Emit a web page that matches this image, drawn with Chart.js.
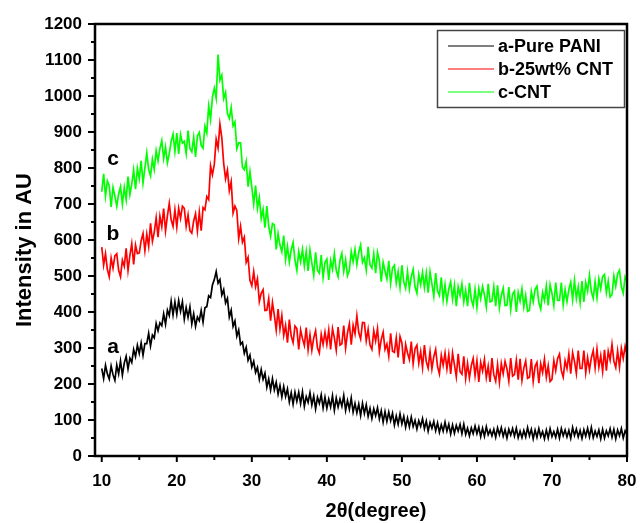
<!DOCTYPE html>
<html>
<head>
<meta charset="utf-8">
<script src="https://cdn.jsdelivr.net/npm/chart.js@4.4.1/dist/chart.umd.min.js"></script>
<style>
  html, body { margin: 0; padding: 0; background: #fff; }
</style>
</head>
<body>
<canvas id="xrdChart" width="640" height="523"></canvas>
<script>
// scan: 2-theta from 10 to 80 degrees, one reading every 0.25 degree
const scanStart = 10;
const scanStep = 0.25;

const seriesLabels = ['a-Pure PANI', 'b-25wt% CNT', 'c-CNT'];
const seriesColors = ['#000000', '#ff0000', '#00ff00'];
const curveTags = ['a', 'b', 'c'];

// intensity readings (AU), four per degree
const pureCounts = [
  243, 215, 252, 228,  214, 250, 226, 210,  253, 228, 264, 225,  258, 277, 242, 272,
  260, 296, 276, 308,  285, 314, 280, 312,  312, 341, 306, 336,  328, 368, 348, 370,
  362, 395, 366, 405,  390, 430, 392, 428,  394, 432, 402, 428,  380, 412, 385, 414,
  367, 395, 360, 386,  376, 404, 372, 412,  415, 445, 440, 475,  490, 512, 480, 490,
  447, 462, 425, 438,  386, 405, 360, 375,  333, 350, 310, 316,  285, 302, 266, 280,
  247, 263, 232, 246,  213, 240, 213, 230,  191, 214, 183, 215,  184, 205, 172, 196,
  164, 193, 165, 186,  150, 176, 144, 177,  152, 177, 146, 178,  138, 165, 149, 176,
  142, 167, 131, 163,  146, 170, 133, 163,  133, 158, 136, 167,  127, 161, 136, 158,
  138, 168, 127, 154,  130, 161, 122, 146,  120, 144, 112, 146,  118, 142, 110, 132,
  104, 131, 112, 134,  103, 126, 94, 123,   96, 122, 98, 119,    86, 111, 88, 117,
  89, 110, 80, 105,    81, 108, 82, 99,     75, 98, 82, 104,     76, 97, 69, 93,
  77, 96, 70, 92,      66, 87, 69, 94,      69, 88, 61, 86,      63, 85, 69, 88,
  62, 88, 60, 77,      56, 78, 62, 83,      62, 80, 54, 77,      55, 81, 59, 72,
  56, 74, 52, 78,      59, 79, 55, 73,      50, 74, 58, 76,      55, 77, 51, 69,
  51, 71, 53, 79,      56, 74, 48, 72,      52, 76, 54, 68,      48, 72, 50, 76,
  54, 68, 52, 74,      50, 76, 56, 72,      53, 71, 49, 79,      57, 75, 53, 71,
  49, 73, 55, 77,      53, 79, 51, 69,      54, 72, 48, 74,      50, 70, 56, 76,
  52, 74, 48, 72,      56, 76, 50, 70,      60
];

const compositeCounts = [
  580, 530, 562, 518,  498, 550, 522, 556,  562, 516, 498, 544,  527, 577, 515, 557,
  590, 532, 586, 562,  564, 598, 618, 570,  616, 582, 646, 596,  622, 662, 608, 666,
  637, 687, 625, 667,  702, 656, 638, 684,  636, 688, 660, 694,  688, 638, 670, 626,
  619, 653, 673, 625,  677, 626, 690, 684,  721, 712, 806, 781,  810, 880, 856, 922,
  884, 813, 770, 794,  737, 762, 675, 694,  682, 604, 638, 594,  608, 538, 552, 488,
  473, 512, 470, 492,  429, 452, 462, 404,  405, 437, 376, 426,  391, 350, 408, 353,
  390, 335, 363, 315,  379, 333, 315, 361,  354, 296, 350, 326,  307, 357, 295, 337,
  294, 328, 348, 300,  286, 338, 310, 344,  310, 350, 296, 354,  328, 294, 358, 308,
  312, 362, 300, 342,  367, 309, 363, 339,  389, 343, 325, 371,  370, 320, 352, 308,
  296, 348, 320, 354,  290, 324, 344, 296,  311, 277, 341, 291,  288, 328, 274, 332,
  314, 256, 310, 286,  268, 318, 256, 298,  308, 258, 290, 246,  308, 262, 244, 290,
  242, 276, 296, 248,  228, 280, 252, 286,  242, 282, 228, 286,  254, 220, 284, 234,
  227, 277, 215, 257,  217, 251, 271, 223,  264, 206, 260, 236,  268, 218, 250, 206,
  272, 226, 208, 254,  205, 257, 229, 263,  242, 208, 272, 222,  226, 266, 212, 270,
  210, 244, 264, 216,  219, 269, 207, 249,  260, 202, 256, 232,  269, 219, 251, 207,
  213, 265, 237, 271,  283, 237, 219, 265,  243, 283, 229, 287,  263, 229, 293, 243,
  243, 293, 231, 273,  239, 273, 293, 245,  297, 247, 279, 235,  295, 237, 291, 267,
  310, 264, 246, 292,  247, 299, 271, 305,  282
];

const cntCounts = [
  734, 784, 722, 764,  750, 692, 746, 722,  694, 728, 748, 700,  746, 712, 776, 726,
  755, 795, 741, 799,  770, 820, 758, 800,  842, 796, 778, 824,  796, 848, 820, 854,
  876, 826, 858, 814,  840, 874, 894, 846,  897, 839, 893, 869,  874, 840, 904, 854,
  845, 885, 831, 889,  899, 863, 855, 916,  897, 972, 935, 997,  1022, 994, 1115, 1044,
  1058, 993, 1010, 951,  938, 968, 917, 928,  854, 870, 870, 802,  795, 818, 748, 790,
  746, 700, 751, 688,  718, 660, 685, 634,  694, 638, 610, 646,  642, 574, 618, 586,
  567, 612, 545, 582,  539, 573, 593, 545,  516, 568, 540, 574,  528, 568, 514, 572,
  536, 502, 566, 516,  508, 558, 496, 538,  547, 489, 543, 519,  562, 516, 498, 544,
  563, 513, 545, 501,  516, 568, 540, 574,  532, 566, 586, 538,  551, 517, 581, 531,
  522, 562, 508, 566,  542, 484, 538, 514,  492, 542, 480, 522,  530, 480, 512, 468,
  530, 484, 466, 512,  464, 498, 518, 470,  452, 504, 476, 510,  468, 508, 454, 512,
  478, 444, 508, 458,  446, 496, 434, 476,  430, 464, 484, 436,  474, 416, 470, 446,
  478, 428, 460, 416,  481, 435, 417, 463,  413, 465, 437, 471,  448, 414, 478, 428,
  430, 470, 416, 474,  412, 446, 466, 418,  419, 469, 407, 449,  458, 400, 454, 430,
  464, 414, 446, 402,  405, 457, 429, 463,  472, 426, 408, 454,  432, 472, 418, 476,
  452, 418, 482, 432,  432, 482, 420, 462,  429, 463, 483, 435,  488, 438, 470, 426,
  486, 428, 482, 458,  502, 456, 438, 484,  440, 492, 464, 498,  504, 454, 486, 442,
  448, 500, 472, 506,  516, 470, 452, 498,  486
];

const xTickValues = [10, 20, 30, 40, 50, 60, 70, 80];
const yTickValues = [0, 100, 200, 300, 400, 500, 600, 700, 800, 900, 1000, 1100, 1200];
// where the a/b/c tags sit, in data units
const tagX = [11.5, 11.5, 11.5];
const tagY = [286, 600, 808];

const fontFamily = '"Liberation Sans", Arial, sans-serif';

function toPoints(counts) {
  return counts.map((v, i) => ({ x: scanStart + i * scanStep, y: v }));
}

// frame, outward ticks, axis titles, curve tags and boxed legend
const decorPlugin = {
  id: 'decor',
  afterDraw(chart) {
    const ctx = chart.ctx;
    const area = chart.chartArea;
    const xs = chart.scales.x;
    const ys = chart.scales.y;
    ctx.save();

    ctx.strokeStyle = '#000';
    ctx.lineWidth = 2;
    for (let v = 0; v <= 1200; v += 50) {
      const py = ys.getPixelForValue(v);
      const len = v % 100 === 0 ? 7 : 4;
      ctx.beginPath();
      ctx.moveTo(area.left, py);
      ctx.lineTo(area.left - len, py);
      ctx.stroke();
    }
    for (let v = 10; v <= 80; v += 5) {
      const px = xs.getPixelForValue(v);
      const len = v % 10 === 0 ? 6 : 4;
      ctx.beginPath();
      ctx.moveTo(px, area.bottom);
      ctx.lineTo(px, area.bottom + len);
      ctx.stroke();
    }
    ctx.lineWidth = 2.5;
    ctx.strokeRect(area.left, area.top, area.right - area.left, area.bottom - area.top);

    // axis titles
    ctx.fillStyle = '#000';
    ctx.font = 'bold 20px ' + fontFamily;
    ctx.textAlign = 'center';
    ctx.textBaseline = 'middle';
    ctx.fillText('2\u03b8(degree)', 376, 511);
    ctx.save();
    ctx.translate(25, 250);
    ctx.rotate(-Math.PI / 2);
    ctx.font = 'bold 22px ' + fontFamily;
    ctx.fillText('Intensity in AU', 0, 0);
    ctx.restore();

    // curve tags
    ctx.font = 'bold 21px ' + fontFamily;
    ctx.textBaseline = 'alphabetic';
    curveTags.forEach((t, i) => {
      ctx.fillText(t, xs.getPixelForValue(tagX[i]), ys.getPixelForValue(tagY[i]));
    });

    // legend
    ctx.fillStyle = '#fff';
    ctx.fillRect(437, 30, 188, 78);
    ctx.strokeStyle = '#444';
    ctx.lineWidth = 1.5;
    ctx.strokeRect(437.5, 30.5, 187, 77);
    ctx.font = 'bold 18px ' + fontFamily;
    ctx.textAlign = 'left';
    ctx.textBaseline = 'middle';
    chart.data.datasets.forEach((ds, i) => {
      const rowY = 46 + i * 23;
      ctx.strokeStyle = ds.borderColor;
      ctx.lineWidth = 1.2;
      ctx.beginPath();
      ctx.moveTo(448, rowY);
      ctx.lineTo(494, rowY);
      ctx.stroke();
      ctx.fillStyle = '#000';
      ctx.fillText(ds.label, 498, rowY + 1);
    });
    ctx.restore();
  }
};

const ctx = document.getElementById('xrdChart').getContext('2d');
const xrdChart = new Chart(ctx, {
  type: 'line',
  data: {
    datasets: [pureCounts, compositeCounts, cntCounts].map((counts, i) => ({
      label: seriesLabels[i],
      data: toPoints(counts),
      borderColor: seriesColors[i],
      borderWidth: 1.7,
      pointRadius: 0,
      tension: 0,
      fill: false
    }))
  },
  options: {
    responsive: false,
    animation: false,
    layout: { padding: { top: 24, right: 13, left: 0, bottom: 0 } },
    plugins: {
      legend: { display: false },
      tooltip: { enabled: false }
    },
    scales: {
      x: {
        type: 'linear',
        min: 9.1,
        max: 80,
        grid: { display: false, drawTicks: false },
        border: { display: false },
        afterBuildTicks: scale => { scale.ticks = xTickValues.map(v => ({ value: v })); },
        afterFit: scale => {
          scale.height = 67;
          scale.paddingLeft = 0;
          scale.paddingRight = 0;
        },
        ticks: {
          autoSkip: false,
          maxRotation: 0,
          padding: 15,
          color: '#000',
          font: { family: fontFamily, size: 17, weight: 'bold' },
          callback: v => String(v)
        }
      },
      y: {
        min: 0,
        max: 1200,
        grid: { display: false, drawTicks: false },
        border: { display: false },
        afterBuildTicks: scale => { scale.ticks = yTickValues.map(v => ({ value: v })); },
        afterFit: scale => {
          scale.width = 95;
          scale.paddingTop = 0;
          scale.paddingBottom = 0;
        },
        ticks: {
          padding: 13,
          color: '#000',
          font: { family: fontFamily, size: 17, weight: 'bold' },
          callback: v => String(v)
        }
      }
    }
  },
  plugins: [decorPlugin]
});
</script>
</body>
</html>
